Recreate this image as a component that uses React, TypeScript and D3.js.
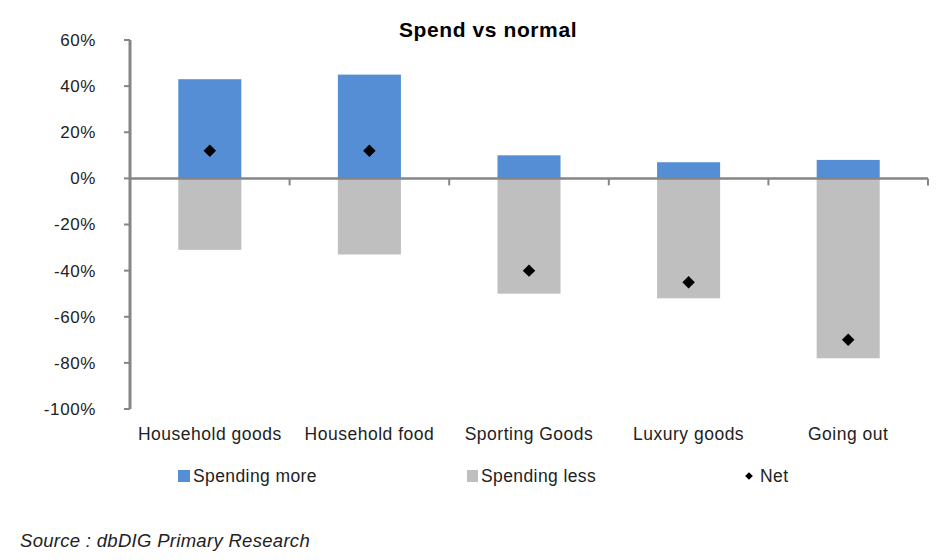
import React from "react";
import * as d3 from "d3";

const categories = ["Household goods", "Household food", "Sporting Goods", "Luxury goods", "Going out"];
const spendingMore = [43, 45, 10, 7, 8];
const spendingLess = [-31, -33, -50, -52, -78];
const net = [12, 12, -40, -45, -70];
const yTicks = [60, 40, 20, 0, -20, -40, -60, -80, -100];

const W = 943, H = 560;
const left = 130, right = 928, top = 40, bottom = 409;
const BLUE = "#558ED5";
const GREY = "#BFBFBF";
const AXIS = "#858585";
const FONT = "'Liberation Sans', Arial, sans-serif";

export default function App() {
  const x = d3.scaleBand<string>().domain(categories).range([left, right]).paddingInner(0).paddingOuter(0);
  const y = d3.scaleLinear().domain([-100, 60]).range([bottom, top]);
  const bw = x.bandwidth() * 0.395;
  const diamond = d3.symbol().type(d3.symbolSquare).size(78)() as string;

  return (
    <svg width={W} height={H} style={{ position: "absolute", left: 0, top: 0, background: "#fff" }}>
      <text x={488} y={37} textAnchor="middle" fontFamily={FONT} fontWeight="bold" fontSize={21} letterSpacing={0.6} fill="#000">
        Spend vs normal
      </text>
      {/* bars */}
      {categories.map((c, i) => {
        const cx = (x(c) as number) + x.bandwidth() / 2;
        return (
          <g key={c}>
            <rect x={cx - bw / 2} y={y(spendingMore[i])} width={bw} height={y(0) - y(spendingMore[i])} fill={BLUE} />
            <rect x={cx - bw / 2} y={y(0)} width={bw} height={y(spendingLess[i]) - y(0)} fill={GREY} />
          </g>
        );
      })}
      {/* y axis */}
      <line x1={left} x2={left} y1={top} y2={bottom} stroke={AXIS} strokeWidth={3} />
      {yTicks.map((t) => (
        <g key={t}>
          <line x1={left - 6} x2={left} y1={y(t)} y2={y(t)} stroke={AXIS} strokeWidth={2} />
          <text x={96} y={y(t)} dy="0.35em" textAnchor="end" fontFamily={FONT} fontSize={17} letterSpacing={0.6} fill="#222">
            {t}%
          </text>
        </g>
      ))}
      {/* x axis */}
      <line x1={left} x2={right} y1={y(0)} y2={y(0)} stroke={AXIS} strokeWidth={2.5} />
      {categories.map((c) => (
        <line key={c} x1={(x(c) as number) + x.bandwidth()} x2={(x(c) as number) + x.bandwidth()} y1={y(0)} y2={y(0) + 7} stroke={AXIS} strokeWidth={2} />
      ))}
      {/* net diamonds */}
      {categories.map((c, i) => {
        const cx = (x(c) as number) + x.bandwidth() / 2;
        return <path key={c} d={diamond} transform={`translate(${cx},${y(net[i])}) rotate(45)`} fill="#000" />;
      })}
      {/* category labels */}
      {categories.map((c) => (
        <text key={c} x={(x(c) as number) + x.bandwidth() / 2} y={440} textAnchor="middle" fontFamily={FONT} fontSize={17.5} letterSpacing={0.5} fill="#222">
          {c}
        </text>
      ))}
      {/* legend */}
      <rect x={178} y={470} width={12} height={12} fill={BLUE} />
      <text x={193} y={482} fontFamily={FONT} fontSize={17.5} letterSpacing={0.4} fill="#222">Spending more</text>
      <rect x={467} y={470} width={11} height={12} fill={GREY} />
      <text x={481} y={482} fontFamily={FONT} fontSize={17.5} letterSpacing={0.4} fill="#222">Spending less</text>
      <path d={d3.symbol().type(d3.symbolSquare).size(30)() as string} transform="translate(749,476) rotate(45)" fill="#000" />
      <text x={760} y={482} fontFamily={FONT} fontSize={17.5} letterSpacing={0.4} fill="#222">Net</text>
      {/* source */}
      <text x={20} y={547} fontFamily={FONT} fontStyle="italic" fontSize={18.5} letterSpacing={0.3} fill="#222">
        Source : dbDIG Primary Research
      </text>
    </svg>
  );
}
